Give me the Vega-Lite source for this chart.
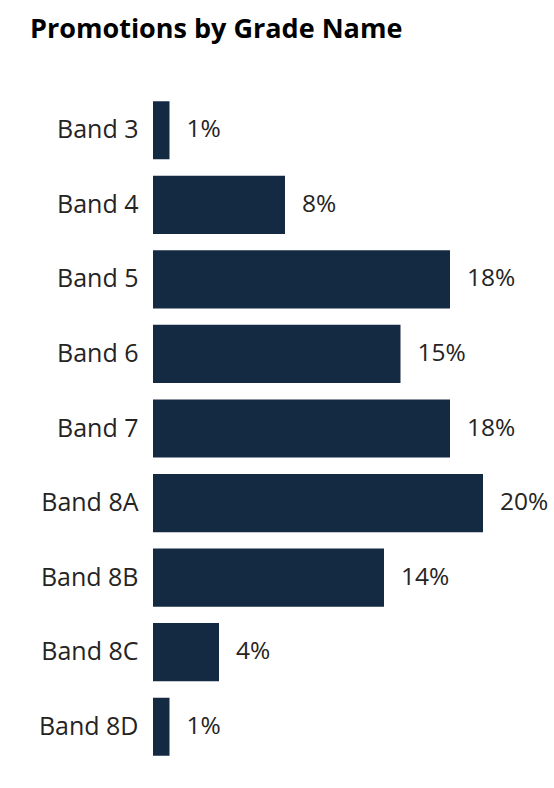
{
  "$schema": "https://vega.github.io/schema/vega-lite/v6.json",
  "autosize": "none",
  "width": 396,
  "height": 671,
  "padding": {"left": 153, "top": 93, "right": 5, "bottom": 24},
  "background": "white",
  "config": {"view": {"stroke": null}, "font": "Open Sans"},
  "title": {
    "text": "Promotions by Grade Name",
    "anchor": "start",
    "frame": "group",
    "dx": -123,
    "offset": 49,
    "fontSize": 27,
    "fontWeight": "bold",
    "font": "Open Sans",
    "color": "#000000"
  },
  "data": {
    "values": [
      {"grade": "Band 3", "share": 0.01},
      {"grade": "Band 4", "share": 0.08},
      {"grade": "Band 5", "share": 0.18},
      {"grade": "Band 6", "share": 0.15},
      {"grade": "Band 7", "share": 0.18},
      {"grade": "Band 8A", "share": 0.20},
      {"grade": "Band 8B", "share": 0.14},
      {"grade": "Band 8C", "share": 0.04},
      {"grade": "Band 8D", "share": 0.01}
    ]
  },
  "encoding": {
    "y": {
      "field": "grade",
      "type": "nominal",
      "sort": null,
      "scale": {"paddingInner": 0.22, "paddingOuter": 0.11},
      "axis": {
        "title": null,
        "domain": false,
        "ticks": false,
        "labelPadding": 15,
        "labelFontSize": 25,
        "labelFont": "Open Sans",
        "labelColor": "#252423"
      }
    },
    "x": {
      "field": "share",
      "type": "quantitative",
      "scale": {"domain": [0, 0.24], "nice": false},
      "axis": null
    }
  },
  "layer": [
    {"mark": {"type": "bar", "color": "#142A43"}},
    {
      "mark": {"type": "text", "align": "left", "baseline": "middle", "dx": 17, "fontSize": 24.5, "font": "Open Sans", "color": "#252423"},
      "encoding": {"text": {"field": "share", "type": "quantitative", "format": ".0%"}}
    }
  ]
}
